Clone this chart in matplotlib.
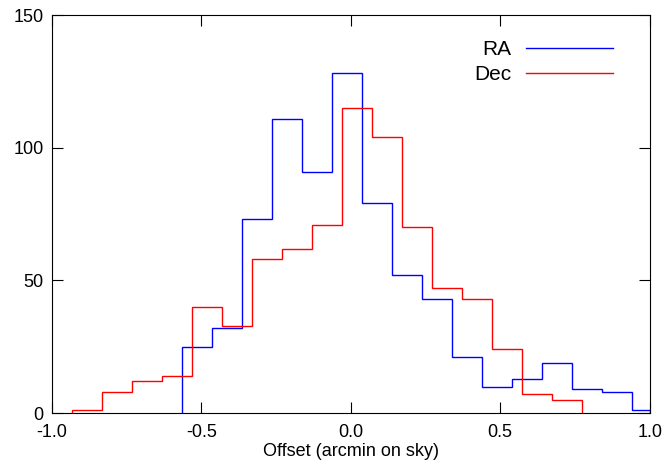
import matplotlib
matplotlib.use("Agg")
import matplotlib.pyplot as plt
import numpy as np

plt.rcParams['font.family'] = ['Liberation Sans', 'DejaVu Sans']

ra_start = -0.565
ra_counts = [25, 32, 73, 111, 91, 128, 79, 52, 43, 21, 10, 13, 19, 9, 8, 1]
dec_start = -0.933
dec_counts = [1, 8, 12, 14, 40, 33, 58, 62, 71, 115, 104, 70, 47, 43, 24, 7, 5]
width = 0.1003

ra_edges = ra_start + width * np.arange(len(ra_counts) + 1)
ra_edges[-1] = min(ra_edges[-1], 1.0)
dec_edges = dec_start + width * np.arange(len(dec_counts) + 1)

fig = plt.figure(figsize=(6.65, 4.71), dpi=100)
ax = fig.add_axes([0.078, 0.123, 0.899, 0.845])
ax.stairs(ra_counts, ra_edges, color='blue', lw=1, baseline=0)
ax.stairs(dec_counts, dec_edges, color='red', lw=1, baseline=0)
ax.set_xlim(-1, 1)
ax.set_ylim(0, 150)
ax.set_xticks([-1, -0.5, 0, 0.5, 1])
ax.set_xticklabels(['-1.0', '-0.5', '0.0', '0.5', '1.0'])
ax.set_yticks([0, 50, 100, 150])
ax.tick_params(direction='in', top=True, right=True, length=8, labelsize=13)
ax.tick_params(axis='x', pad=8)
ax.tick_params(axis='y', pad=6)
ax.set_xlabel('Offset (arcmin on sky)', fontsize=13, labelpad=1)
ax.legend(['RA', 'Dec'], loc='upper right', frameon=False, fontsize=15,
          markerfirst=False, handlelength=4.2, bbox_to_anchor=(0.97, 0.985),
          labelspacing=0.3, handletextpad=0.7)
fig.savefig('out.png', dpi=100)
